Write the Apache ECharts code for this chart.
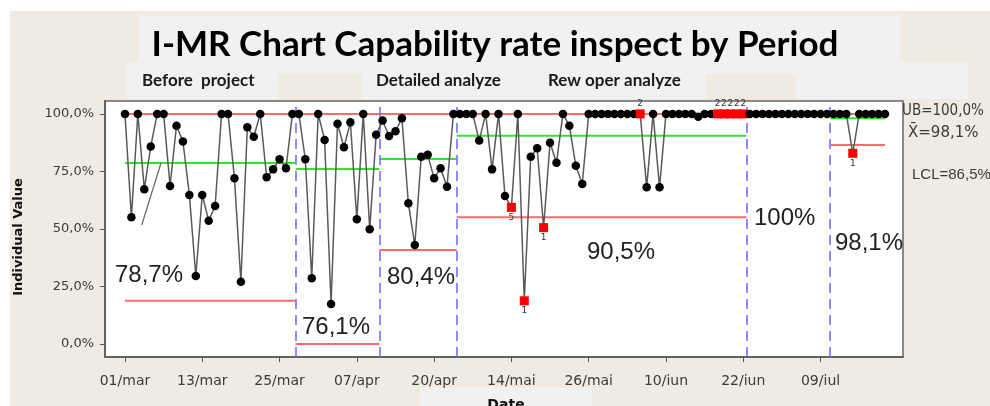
<!DOCTYPE html>
<html><head><meta charset="utf-8">
<script src="https://cdn.jsdelivr.net/npm/echarts@6/dist/echarts.min.js"></script>
<style>html,body{margin:0;padding:0;background:#fff}#c{width:990px;height:406px}</style>
</head><body><div id="c"></div>
<script>
// ---- data ----
const dateLabels = ['01/mar','13/mar','25/mar','07/apr','20/apr','14/mai','26/mai','10/iun','22/iun','09/iul'];
const obsPerTick = 12;
const period1 = [100,55.1,100,67.3,85.8,100,100,68.7,94.9,88.0,64.8,29.6,64.8,53.6,60.0,100,100,72.0,27.1,94.2,90.1,100,72.5,75.9,80.3,76.4,100];
const period2 = [100,80.3,28.6,100,88.7,17.4,95.7,85.5,96.4,54.2,100,49.9,90.9];
const period3 = [97.1,90.4,92.5,98.1,61.2,43.0,81.4,82.2,72.0,76.4,68.4,100];
const period4 = [100,100,100,88.4,100,75.9,100,64.3,59.4,100,18.8,81.4,85.1,50.6,87.5,78.8,100,94.8,77.5,69.6,
                 100,100,100,100,100,100,100,100,100,68.1,100,68.1,100,100,100,100,100,98.8,100,100,100,100,100,100,100];
const period5 = [100,100,100,100,100,100,100,100,100,100,100,100,100];
const period6 = [100,100,100,82.9,100,100,100,100,100];
const values = [].concat(period1, period2, period3, period4, period5, period6);
const periodBounds = [26.5, 39.5, 51.5, 96.5, 109.5];
const periodMeans = [78.7, 76.1, 80.4, 90.5, 100, 98.1];
const periodLCL = [18.8, 0, 40.9, 55.1, 100, 86.5];
const UCL = 100;
const periodLabels = ['78,7%','76,1%','80,4%','90,5%','100%','98,1%'];
const sectionNames = ['Before  project','Detailed analyze','Rew oper analyze'];
const ruleObs  = [60, 62, 65, 80, 92, 93, 94, 95, 96, 113];
const ruleTags = ['5','1','1','2','2','2','2','2','2','1'];
const yTicks = [0, 25, 50, 75, 100];
const strayLine = [[2.6, 51.7], [5.6, 78.7]];
const limitTexts = ['UB=100,0%', 'X\u0304=98,1%', 'LCL=86,5%'];

// ---- derived ----
const lastObs = values.length - 1;
const starts = [0].concat(periodBounds);
const ends = periodBounds.concat([lastObs]);
const tickObs = dateLabels.map((d, i) => i * obsPerTick);

const series = [];
series.push({type:'line', silent:true, symbol:'none', z:2, data:[[0,UCL],[lastObs,UCL]],
  lineStyle:{color:'#ff6a6a', width:2}});
starts.forEach((s, p) => {
  series.push({type:'line', silent:true, symbol:'none', z:2, data:[[s,periodMeans[p]],[ends[p],periodMeans[p]]],
    lineStyle:{color:'#2ee62e', width:2}});
  series.push({type:'line', silent:true, symbol:'none', z:2, data:[[s,periodLCL[p]],[ends[p],periodLCL[p]]],
    lineStyle:{color:'#ff6a6a', width:2}});
});
series.push({type:'line', silent:true, symbol:'none', z:3, data:strayLine, lineStyle:{color:'#6a6a6a', width:1.3}});
series.push({
  type:'line', z:5, symbol:'circle', symbolSize:8.5, silent:true,
  itemStyle:{color:'#000'}, lineStyle:{color:'#5a5a5a', width:1.5},
  data: values.map((v, i) => {
    const k = ruleObs.indexOf(i);
    if (k < 0) return [i, v];
    return {value:[i, v], symbol:'rect', symbolSize:9, itemStyle:{color:'#ff0000'},
      label:{show:true, formatter:ruleTags[k], position: ruleTags[k]==='2' ? 'top' : 'bottom',
        distance:1, fontSize:9, color:'#333', fontFamily:'DejaVu Sans'}};
  }),
  markLine:{silent:true, symbol:'none', label:{show:false},
    lineStyle:{type:[10,6], color:'#7272ff', width:1.6},
    data: periodBounds.map(b => ({xAxis:b}))}
});

const bigLabelPos = [[115,275],[302,327],[387,277],[587,252],[754,218],[835,243]];
const graphics = [
  {type:'rect', z:-100, shape:{x:10,y:11,width:980,height:395}, style:{fill:'#efebe2'}},
  {type:'rect', z:-99, shape:{x:139,y:15,width:761,height:48}, style:{fill:'#f1f1f1'}},
  {type:'rect', z:-99, shape:{x:127,y:62,width:841,height:37}, style:{fill:'#f1f1f1'}},
  {type:'rect', z:-98, shape:{x:278,y:74,width:84,height:25}, style:{fill:'#efebe2'}},
  {type:'rect', z:-98, shape:{x:706,y:74,width:90,height:25}, style:{fill:'#efebe2'}},
  {type:'rect', z:-99, shape:{x:420,y:387,width:172,height:19}, style:{fill:'#f1f1f1'}},
  {type:'text', z:10, x:495, y:45, style:{text:'I-MR Chart Capability rate inspect by Period', fill:'#000',
     font:'bold 35px Lato, "Liberation Sans", sans-serif', textAlign:'center', textVerticalAlign:'middle'}},
  {type:'text', z:10, x:142, y:81, style:{text:sectionNames[0], fill:'#1a1a1a', font:'bold 17px Lato, sans-serif', textVerticalAlign:'middle'}},
  {type:'text', z:10, x:376, y:81, style:{text:sectionNames[1], fill:'#1a1a1a', font:'bold 17px Lato, sans-serif', textVerticalAlign:'middle'}},
  {type:'text', z:10, x:548, y:81, style:{text:sectionNames[2], fill:'#1a1a1a', font:'bold 17px Lato, sans-serif', textVerticalAlign:'middle'}},
  {type:'text', z:10, x:19, y:237, rotation:Math.PI/2, style:{text:'Individual Value', fill:'#111',
     font:'bold 13px "DejaVu Sans", sans-serif', textAlign:'center', textVerticalAlign:'middle'}},
  {type:'text', z:10, x:506, y:398, style:{text:'Date', fill:'#111', font:'bold 14px "DejaVu Sans", sans-serif', textAlign:'center'}},
  {type:'text', z:10, x:902, y:111, style:{text:limitTexts[0], fill:'#3f3a33', font:'15px "DejaVu Sans Condensed","Liberation Sans", sans-serif', textVerticalAlign:'middle'}},
  {type:'text', z:10, x:908, y:133, style:{text:limitTexts[1], fill:'#3f3a33', font:'15px "DejaVu Sans", sans-serif', textVerticalAlign:'middle'}},
  {type:'text', z:10, x:912, y:175, style:{text:limitTexts[2], fill:'#3f3a33', font:'15px "Liberation Sans", sans-serif', textVerticalAlign:'middle'}}
];
periodLabels.forEach((t, i) => {
  graphics.push({type:'text', z:10, x:bigLabelPos[i][0], y:bigLabelPos[i][1],
    style:{text:t, fill:'#222', font:'24px "Liberation Sans", sans-serif', textVerticalAlign:'middle'}});
});

const chart = echarts.init(document.getElementById('c'), null, {renderer:'canvas'});
chart.setOption({
  animation:false,
  backgroundColor:'#ffffff',
  grid:{left:105, right:87, top:101, bottom:49, show:true, backgroundColor:'#ffffff', borderColor:'#666', borderWidth:1.5},
  xAxis:{type:'value', min:-3.1, max:120.8,
    axisLine:{show:true, onZero:false, lineStyle:{color:'#555', width:1.5}},
    axisTick:{show:true, length:5, customValues:tickObs, lineStyle:{color:'#555'}},
    axisLabel:{customValues:tickObs, formatter:v => dateLabels[Math.round(v/obsPerTick)], margin:17,
      color:'#3f3a33', fontSize:14, fontFamily:'DejaVu Sans'},
    splitLine:{show:false}},
  yAxis:{type:'value', min:-5.6, max:105.6,
    axisLine:{show:true, onZero:false, lineStyle:{color:'#555', width:1.5}},
    axisTick:{show:true, length:5, customValues:yTicks, lineStyle:{color:'#555'}},
    axisLabel:{customValues:yTicks, formatter:v => v.toFixed(1).replace('.', ',') + '%', margin:11,
      color:'#3f3a33', fontSize:13, fontFamily:'DejaVu Sans'},
    splitLine:{show:false}},
  graphic:graphics,
  series:series
});
</script></body></html>
